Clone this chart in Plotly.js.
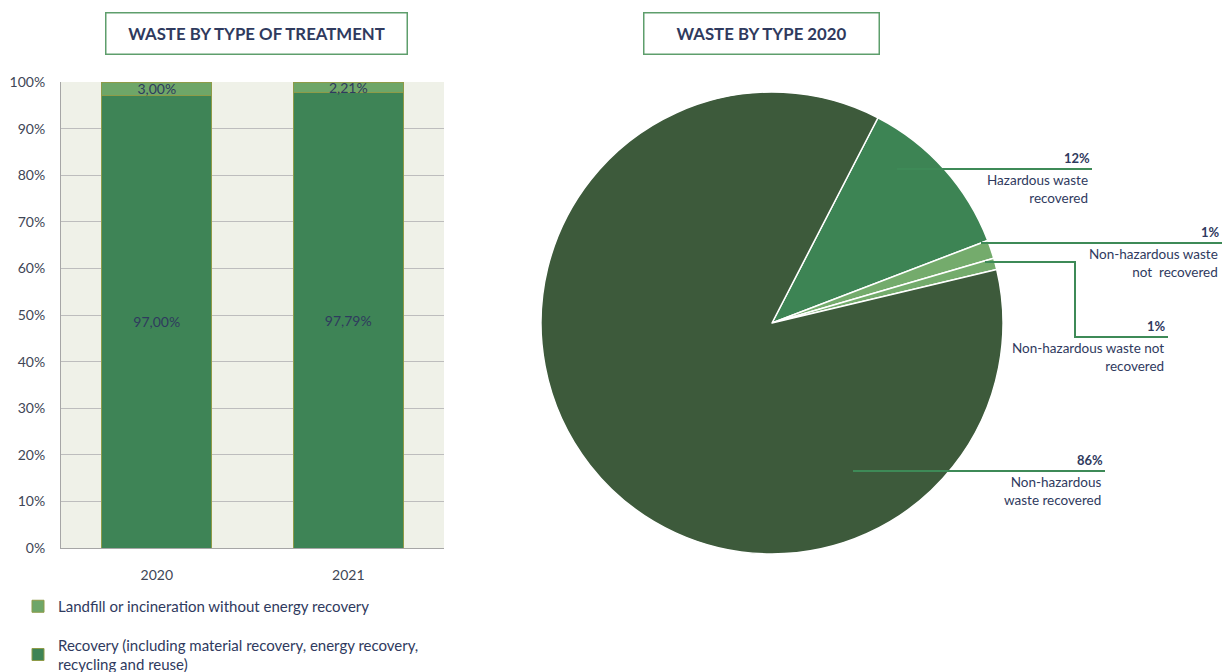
<!DOCTYPE html>
<html>
<head>
<meta charset="utf-8">
<script src="https://cdn.plot.ly/plotly-3.0.1.min.js"></script>
<style>html,body{margin:0;padding:0;background:#fff;}#chart{width:1224px;height:672px;}</style>
</head>
<body>
<div id="chart"></div>
<script>
// ---- Data ----
const years = ['2020', '2021'];
const recovery = [97.00, 97.79];
const landfill = [3.00, 2.21];
const barSeriesNames = [
  'Recovery (including material recovery, energy recovery,<br>recycling and reuse)',
  'Landfill or incineration without energy recovery'
];
const pieLabels = [
  'Hazardous waste<br>recovered',
  'Non-hazardous waste<br>not  recovered',
  'Non-hazardous waste not<br>recovered',
  'Non-hazardous<br>waste recovered'
];
const pieValues = [11.6, 1.3, 0.8, 86.3];
const chartTitles = ['WASTE BY TYPE OF TREATMENT', 'WASTE BY TYPE 2020'];

// ---- Layout helpers (pixel -> paper) ----
const W = 1224, H = 672;
const px = x => x / W;
const py = y => 1 - y / H;

const FONT = 'Lato, "Open Sans", sans-serif';
const NAVY = '#2F3A5E';
const TICK = '#404656';
const GREEN_LINE = '#3E8A57';

const traces = [
  {
    type: 'bar', x: years, y: recovery, name: barSeriesNames[0],
    marker: {color: '#3E8456', line: {color: '#8E9B48', width: 1}},
    text: recovery, texttemplate: '%{y:.2f}%', textposition: 'inside',
    insidetextanchor: 'middle', textangle: 0, constraintext: 'none',
    textfont: {color: NAVY, size: 14, family: FONT},
    legendgroup: 'a', legendrank: 2, hoverinfo: 'none', xaxis: 'x', yaxis: 'y'
  },
  {
    type: 'bar', x: years, y: landfill, name: barSeriesNames[1],
    marker: {color: '#6EA668', line: {color: '#8E9B48', width: 1}},
    text: landfill, texttemplate: '%{y:.2f}%', textposition: 'inside',
    insidetextanchor: 'middle', textangle: 0, constraintext: 'none',
    textfont: {color: NAVY, size: 14, family: FONT},
    legendgroup: 'b', legendrank: 1, hoverinfo: 'none', xaxis: 'x', yaxis: 'y'
  },
  {
    type: 'pie', labels: pieLabels, values: pieValues, sort: false,
    direction: 'clockwise', rotation: 27.3, textinfo: 'none', hoverinfo: 'none',
    marker: {colors: ['#3D8454', '#74AB6C', '#74AB6C', '#3D5A3B'], line: {color: '#ffffff', width: 1.5}},
    domain: {x: [px(541), px(1003)], y: [py(554), py(92)]},
    showlegend: false
  }
];

// Pie label annotations and leader lines
const pieLabelPos = [
  {x: 1092, y: 169},
  {x: 1222, y: 243},
  {x: 1168, y: 337},
  {x: 1105, y: 471}
];
const annotations = [];
pieLabels.forEach((lab, i) => {
  const p = pieLabelPos[i];
  annotations.push({
    xref: 'paper', yref: 'paper', x: px(p.x), y: py(p.y - 1), xanchor: 'right', yanchor: 'bottom',
    text: '<b>' + Math.round(pieValues[i]) + '%</b>', showarrow: false,
    font: {family: FONT, size: 13, color: NAVY}
  });
  annotations.push({
    xref: 'paper', yref: 'paper', x: px(p.x - 2), y: py(p.y + 1), xanchor: 'right', yanchor: 'top',
    align: 'right', text: lab, showarrow: false,
    font: {family: FONT, size: 13.5, color: NAVY}
  });
});
// Title boxes
annotations.push({
  xref: 'paper', yref: 'paper', x: px(256.5), y: py(33.5), xanchor: 'center', yanchor: 'middle',
  text: '<b>' + chartTitles[0] + '</b>', showarrow: false, width: 300, height: 40,
  bordercolor: '#5E9E6C', borderwidth: 1.5, borderpad: 0, bgcolor: '#ffffff',
  font: {family: FONT, size: 16.8, color: NAVY}
});
annotations.push({
  xref: 'paper', yref: 'paper', x: px(761.5), y: py(33.5), xanchor: 'center', yanchor: 'middle',
  text: '<b>' + chartTitles[1] + '</b>', showarrow: false, width: 234, height: 40,
  bordercolor: '#5E9E6C', borderwidth: 1.5, borderpad: 0, bgcolor: '#ffffff',
  font: {family: FONT, size: 16.8, color: NAVY}
});

const lineStyle = {color: GREEN_LINE, width: 2};
const shapes = [
  {type: 'line', xref: 'paper', yref: 'paper', x0: px(897), y0: py(169), x1: px(1092), y1: py(169), line: lineStyle},
  {type: 'line', xref: 'paper', yref: 'paper', x0: px(981), y0: py(243), x1: px(1222), y1: py(243), line: lineStyle},
  {type: 'path', xref: 'paper', yref: 'paper',
   path: `M ${px(985)} ${py(262)} L ${px(1075)} ${py(262)} L ${px(1075)} ${py(337)} L ${px(1168)} ${py(337)}`,
   line: lineStyle},
  {type: 'line', xref: 'paper', yref: 'paper', x0: px(853), y0: py(471), x1: px(1105), y1: py(471), line: lineStyle}
];

const layout = {
  width: W, height: H,
  margin: {l: 0, r: 0, t: 0, b: 0, autoexpand: false},
  paper_bgcolor: '#ffffff',
  plot_bgcolor: '#EFF1E8',
  separators: ',.',
  barmode: 'stack',
  bargap: 0.425,
  font: {family: FONT, size: 12, color: TICK},
  xaxis: {
    domain: [px(61), px(444)], anchor: 'y', type: 'category', range: [-0.5, 1.5],
    showline: true, linecolor: '#A6A6A6', linewidth: 1, ticks: '', ticklabelstandoff: 14,
    tickfont: {family: FONT, size: 14, color: TICK}, fixedrange: true
  },
  yaxis: {
    domain: [py(548), py(82)], anchor: 'x', range: [0, 100], dtick: 10, ticksuffix: '%',
    showgrid: true, gridcolor: '#BDBDBD', gridwidth: 1, zeroline: false,
    showline: true, linecolor: '#A6A6A6', linewidth: 1, ticks: '', ticklabelstandoff: 12,
    tickfont: {family: FONT, size: 14, color: TICK}, fixedrange: true
  },
  showlegend: true,
  legend: {
    x: px(18), y: py(590), xanchor: 'left', yanchor: 'top',
    traceorder: 'grouped', tracegroupgap: 16,
    font: {family: FONT, size: 15, color: NAVY}, bgcolor: 'rgba(0,0,0,0)'
  },
  annotations: annotations,
  shapes: shapes
};

Plotly.newPlot('chart', traces, layout, {staticPlot: true, displayModeBar: false});
</script>
</body>
</html>
